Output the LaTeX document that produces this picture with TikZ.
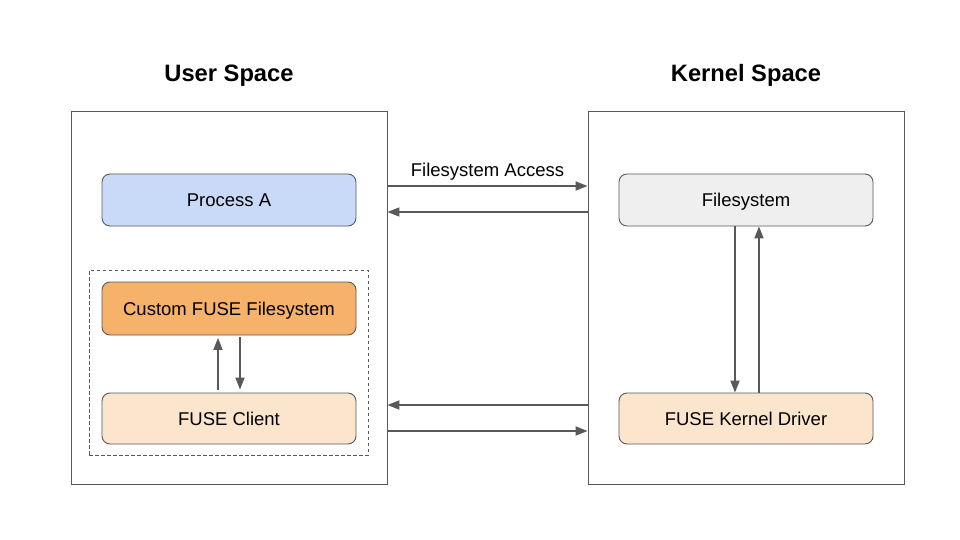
\documentclass[tikz,border=0pt]{standalone}
\usepackage{fontspec}
\setmainfont{Liberation Sans}
\usetikzlibrary{arrows.meta}
\definecolor{lineg}{HTML}{595959}
\definecolor{procblue}{HTML}{C9DAF8}
\definecolor{fuseorange}{HTML}{F6B26B}
\definecolor{fusepeach}{HTML}{FCE5CD}
\definecolor{fsgray}{HTML}{EFEFEF}
\tikzset{
  container/.style={draw=lineg, line width=0.9pt, fill=white, minimum width=316pt, minimum height=373pt, inner sep=0pt},
  compbox/.style={draw=lineg, line width=0.9pt, rounded corners=8pt, minimum width=254pt, minimum height=52pt, inner sep=0pt, font=\fontsize{18.5}{22}\selectfont, text height=13.3pt, text depth=0pt},
  titletext/.style={font=\bfseries\fontsize{23.7}{28}\selectfont, inner sep=0pt, text height=17pt, text depth=0pt},
  flow/.style={draw=lineg, line width=1.8pt, -{Triangle[length=12pt,width=9pt]}},
  dashbox/.style={draw=lineg, line width=0.8pt, dash pattern=on 3.5pt off 2.5pt, minimum width=279pt, minimum height=185pt, inner sep=0pt}
}
\begin{document}
\begin{tikzpicture}[x=1pt,y=-1pt]
\useasboundingbox (0,0) rectangle (960,540);
\node[titletext] (ut) at (229,73.3) {User Space};
\node[titletext] (kt) at (746,73.3) {Kernel Space};
\node[container] (ubox) at (229,297.5) {};
\node[container] (kbox) at (746,297.5) {};
\node[dashbox] (dbox) at (228.5,362.5) {};
\node[compbox, fill=procblue] (pa) at (229,200) {Process A};
\node[compbox, fill=fuseorange, minimum height=53pt] (cf) at (229,308.5) {Custom FUSE Filesystem};
\node[compbox, fill=fusepeach, minimum height=51pt] (fc) at (229,418.5) {FUSE Client};
\node[compbox, fill=fsgray] (fs) at (746,200) {Filesystem};
\node[compbox, fill=fusepeach, minimum height=51pt] (fkd) at (746,418.5) {FUSE Kernel Driver};
% top arrows
\draw[flow] (ubox.east |- 0,186) -- node[above=10pt, anchor=base, font=\fontsize{18.5}{22}\selectfont, inner sep=0pt] (fsa) {Filesystem Access} (kbox.west |- 0,186);
\draw[flow] (kbox.west |- 0,212) -- (ubox.east |- 0,212);
% bottom arrows
\draw[flow] (kbox.west |- 0,405) -- (ubox.east |- 0,405);
\draw[flow] (ubox.east |- 0,431) -- (kbox.west |- 0,431);
% kernel verticals
\draw[flow] (fs.south -| 735,0) -- (fkd.north -| 735,0);
\draw[flow] (fkd.north -| 759,0) -- (fs.south -| 759,0);
% user verticals
\draw[flow, shorten <=3pt, shorten >=2.5pt] (fc.north -| 218,0) -- (cf.south -| 218,0);
\draw[flow, shorten <=2pt, shorten >=3pt] (cf.south -| 240,0) -- (fc.north -| 240,0);
\end{tikzpicture}
\end{document}
